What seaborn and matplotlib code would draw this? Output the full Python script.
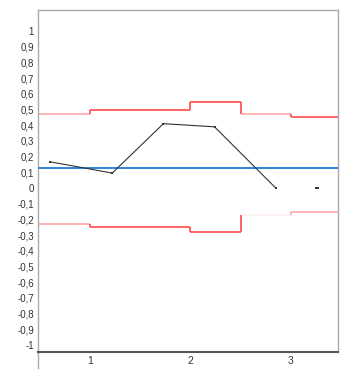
import matplotlib
matplotlib.use("Agg")
from matplotlib import pyplot as plt
import seaborn as sns
import pandas as pd
import numpy as np

# observed values (black line)
obs_x = [0.60, 1.22, 1.73, 2.24, 2.85]
obs_y = [0.167, 0.095, 0.41, 0.39, 0.0]
# isolated last point
last_x = [3.26]
last_y = [0.0]

center = 0.127

# stepped control limits: segment edges and values
edges = [0.48, 1.0, 2.0, 2.5, 3.0, 3.47]
ucl = [0.47, 0.50, 0.55, 0.47, 0.45]
lcl = [-0.23, -0.25, -0.28, -0.17, -0.15]
ucl_shade = ["light", "dark", "dark", "light", "dark"]
lcl_shade = ["light", "dark", "dark", "faint", "light"]

yticks = [round(v, 1) + 0.0 for v in np.arange(-1.0, 1.01, 0.1)]
xticks = [1, 2, 3]

shade_colors = {"dark": "#ff4a4a", "light": "#ffa8a8", "faint": "#fff0f0"}
shade_rank = {"faint": 0, "light": 1, "dark": 2}

sns.set_style("white")
plt.rcParams["font.family"] = ["Liberation Sans", "DejaVu Sans"]

fig, ax = plt.subplots(figsize=(3.52, 3.74), dpi=100)
fig.subplots_adjust(left=0.108, right=0.960, bottom=0.059, top=0.973)

# control limits
for vals, shades in ((ucl, ucl_shade), (lcl, lcl_shade)):
    ax.hlines(vals, edges[:-1], edges[1:],
              colors=[shade_colors[s] for s in shades], linewidth=1.2, zorder=2)
    for i in range(1, len(vals)):
        s = max(shades[i - 1], shades[i], key=lambda k: shade_rank[k])
        ax.vlines(edges[i], vals[i - 1], vals[i], colors=shade_colors[s],
                  linewidth=1.2, zorder=2)

ax.axhline(center, color="#2f86d6", linewidth=1.4, zorder=3)

df = pd.DataFrame({"x": obs_x, "y": obs_y})
sns.lineplot(data=df, x="x", y="y", ax=ax, color="#333333", linewidth=0.8,
             marker="s", markersize=2, markeredgewidth=0, zorder=4)
sns.scatterplot(x=last_x, y=last_y, ax=ax, color="#111111", marker="_",
                s=10, linewidth=1.2, zorder=4)

ax.set_xlim(0.48, 3.47)
ax.set_ylim(-1.045, 1.134)
ax.set_xlabel("")
ax.set_ylabel("")
ax.set_yticks(yticks, [f"{v:g}".replace(".", ",") for v in yticks])
ax.set_xticks(xticks, [str(v) for v in xticks])
ax.tick_params(axis="both", length=0, labelsize=7, labelcolor="#333333")
ax.tick_params(axis="y", pad=3)
ax.tick_params(axis="x", pad=3, labelsize=7.5)

for side in ("top", "right", "left"):
    ax.spines[side].set_color("#aaaaaa")
    ax.spines[side].set_linewidth(1.0)
ax.spines["bottom"].set_color("#555555")
ax.spines["bottom"].set_linewidth(1.5)
ax.spines["left"].set_bounds(-1.146, 1.134)

fig.savefig("out.png", dpi=100)
